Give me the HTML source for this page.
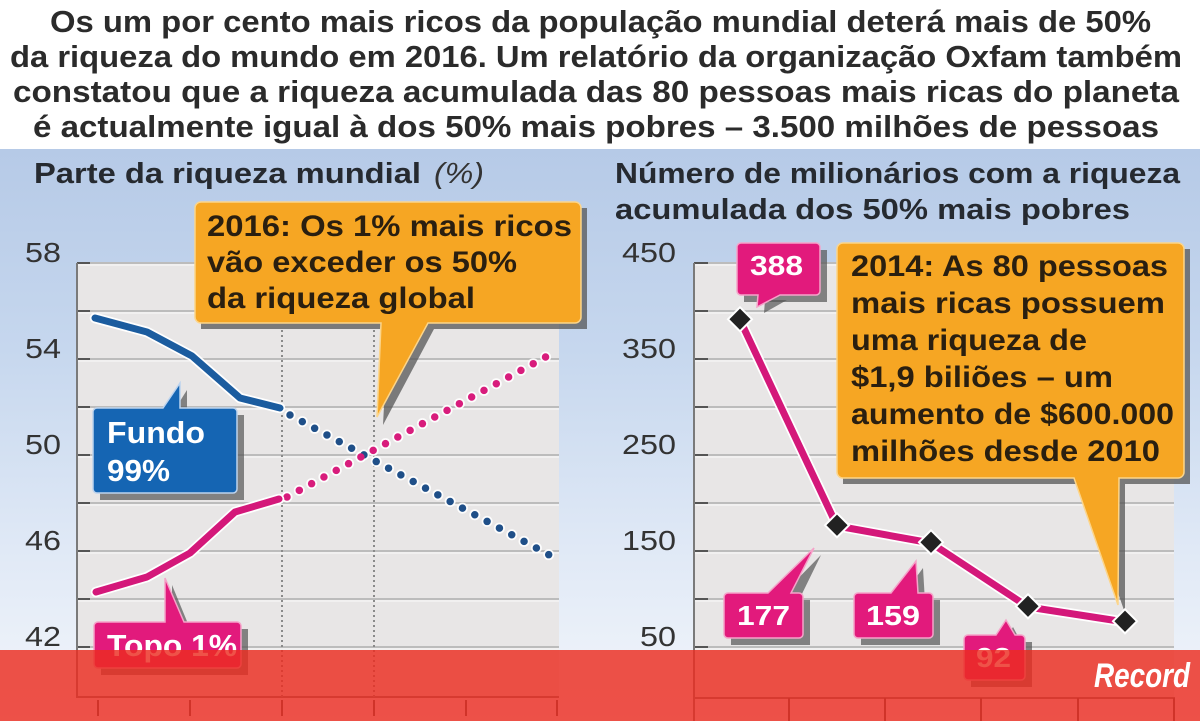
<!DOCTYPE html>
<html><head><meta charset="utf-8">
<style>
html,body{margin:0;padding:0;background:#fff;}
svg{display:block;}
text{font-family:"Liberation Sans",Arial,sans-serif;}
</style></head>
<body>
<svg width="1200" height="721" viewBox="0 0 1200 721" xmlns="http://www.w3.org/2000/svg">
<defs>
<linearGradient id="bg" x1="0" y1="0" x2="0" y2="1">
<stop offset="0" stop-color="#b6cae7"/>
<stop offset="0.35" stop-color="#c6d7ee"/>
<stop offset="0.7" stop-color="#e0e9f6"/>
<stop offset="1" stop-color="#f3f6fb"/>
</linearGradient>
</defs>
<rect x="0" y="0" width="1200" height="721" fill="#fff"/>
<rect x="0" y="149" width="1200" height="572" fill="url(#bg)"/>

<!-- Header -->
<g font-weight="bold" font-size="30.5" fill="#2b2b2b">
<text x="50" y="32" textLength="1101" lengthAdjust="spacingAndGlyphs">Os um por cento mais ricos da população mundial deterá mais de 50%</text>
<text x="10" y="67" textLength="1172" lengthAdjust="spacingAndGlyphs">da riqueza do mundo em 2016. Um relatório da organização Oxfam também</text>
<text x="13" y="102" textLength="1166" lengthAdjust="spacingAndGlyphs">constatou que a riqueza acumulada das 80 pessoas mais ricas do planeta</text>
<text x="33" y="137" textLength="1126" lengthAdjust="spacingAndGlyphs">é actualmente igual à dos 50% mais pobres – 3.500 milhões de pessoas</text>
</g>

<!-- Panel titles -->
<g font-weight="bold" font-size="28.5" fill="#262a30">
<text x="34" y="183" textLength="387" lengthAdjust="spacingAndGlyphs">Parte da riqueza mundial</text>
<text x="615" y="183" textLength="565" lengthAdjust="spacingAndGlyphs">Número de milionários com a riqueza</text>
<text x="615" y="219" textLength="515" lengthAdjust="spacingAndGlyphs">acumulada dos 50% mais pobres</text>
</g>
<text x="434" y="183" font-size="28.5" font-style="italic" fill="#333" textLength="50" lengthAdjust="spacingAndGlyphs">(%)</text>

<!-- LEFT PLOT -->
<rect x="77" y="263" width="482" height="434" fill="#e8e6e6"/>
<g stroke="#bcbcbc" stroke-width="2">
<line x1="77" y1="263" x2="559" y2="263"/>
<line x1="77" y1="311" x2="559" y2="311"/>
<line x1="77" y1="359" x2="559" y2="359"/>
<line x1="77" y1="407" x2="559" y2="407"/>
<line x1="77" y1="455" x2="559" y2="455"/>
<line x1="77" y1="503" x2="559" y2="503"/>
<line x1="77" y1="551" x2="559" y2="551"/>
<line x1="77" y1="599" x2="559" y2="599"/>
<line x1="77" y1="647" x2="559" y2="647"/>
</g>
<g stroke="#fafafa" stroke-width="1">
<line x1="77" y1="265" x2="559" y2="265"/>
<line x1="77" y1="313" x2="559" y2="313"/>
<line x1="77" y1="361" x2="559" y2="361"/>
<line x1="77" y1="409" x2="559" y2="409"/>
<line x1="77" y1="457" x2="559" y2="457"/>
<line x1="77" y1="505" x2="559" y2="505"/>
<line x1="77" y1="553" x2="559" y2="553"/>
<line x1="77" y1="601" x2="559" y2="601"/>
<line x1="77" y1="649" x2="559" y2="649"/>
</g>
<g stroke="#555" stroke-width="2">
<line x1="77" y1="263" x2="90" y2="263"/>
<line x1="77" y1="311" x2="90" y2="311"/>
<line x1="77" y1="359" x2="90" y2="359"/>
<line x1="77" y1="407" x2="90" y2="407"/>
<line x1="77" y1="455" x2="90" y2="455"/>
<line x1="77" y1="503" x2="90" y2="503"/>
<line x1="77" y1="551" x2="90" y2="551"/>
<line x1="77" y1="599" x2="90" y2="599"/>
<line x1="77" y1="647" x2="90" y2="647"/>
</g>
<line x1="77" y1="263" x2="77" y2="698" stroke="#7a7a7a" stroke-width="2"/>
<line x1="76" y1="697" x2="559" y2="697" stroke="#7a7a7a" stroke-width="2"/>
<g stroke="#555" stroke-width="2">
<line x1="98" y1="700" x2="98" y2="716"/>
<line x1="190" y1="700" x2="190" y2="716"/>
<line x1="282" y1="700" x2="282" y2="716"/>
<line x1="374" y1="700" x2="374" y2="716"/>
<line x1="466" y1="700" x2="466" y2="716"/>
<line x1="557" y1="700" x2="557" y2="716"/>
</g>
<!-- vertical dotted guides -->
<g stroke="#8a8a8a" stroke-width="2" stroke-dasharray="2 3">
<line x1="282" y1="330" x2="282" y2="697"/>
<line x1="374" y1="330" x2="374" y2="697"/>
</g>

<!-- Y labels left -->
<g font-size="28" fill="#333" text-anchor="end">
<text x="61" y="262" textLength="36" lengthAdjust="spacingAndGlyphs">58</text>
<text x="61" y="358" textLength="36" lengthAdjust="spacingAndGlyphs">54</text>
<text x="61" y="454" textLength="36" lengthAdjust="spacingAndGlyphs">50</text>
<text x="61" y="550" textLength="36" lengthAdjust="spacingAndGlyphs">46</text>
<text x="61" y="646" textLength="36" lengthAdjust="spacingAndGlyphs">42</text>
</g>

<!-- dotted projections -->
<g fill="none" stroke-linecap="round">
<path d="M290 415 L553 557" stroke="#ffffff" stroke-width="11" stroke-dasharray="0 14" opacity="0.9"/>
<path d="M287 497 L553 353" stroke="#ffffff" stroke-width="11" stroke-dasharray="0 14" opacity="0.9"/>
<path d="M290 415 L553 557" stroke="#1f4f88" stroke-width="7.5" stroke-dasharray="0 14"/>
<path d="M287 497 L553 353" stroke="#d81c7c" stroke-width="7.5" stroke-dasharray="0 14"/>
</g>
<!-- solid lines -->
<g fill="none" stroke-linecap="round" stroke-linejoin="round">
<polyline points="95,318 147,332 192,356 240,398 280,408" stroke="#ffffff" stroke-width="10.5"/>
<polyline points="96,592 147,577 190,553 235,512 279,499" stroke="#ffffff" stroke-width="10.5"/>
<polyline points="95,318 147,332 192,356 240,398 280,408" stroke="#1b5c9f" stroke-width="7"/>
<polyline points="96,592 147,577 190,553 235,512 279,499" stroke="#d4187a" stroke-width="7"/>
</g>

<!-- Left orange callout -->
<g>
<path d="M201 208 h386 v121 h-153 l-51 96 l5 -96 h-187 z" fill="#555" opacity="0.75"/>
<path d="M201 202 h374 a6 6 0 0 1 6 6 v109 a6 6 0 0 1 -6 6 h-147 l-51 94 l4 -94 h-180 a6 6 0 0 1 -6 -6 v-109 a6 6 0 0 1 6 -6 z" fill="#f6a623" stroke="#fcd58a" stroke-width="1.5"/>
<g font-weight="bold" font-size="29.5" fill="#2a1f10">
<text x="207" y="236" textLength="365" lengthAdjust="spacingAndGlyphs">2016: Os 1% mais ricos</text>
<text x="207" y="272" textLength="310" lengthAdjust="spacingAndGlyphs">vão exceder os 50%</text>
<text x="207" y="308" textLength="268" lengthAdjust="spacingAndGlyphs">da riqueza global</text>
</g>
</g>

<!-- Fundo callout -->
<g>
<path d="M100 415 h144 v85 h-144 z" fill="#555" opacity="0.7"/>
<path d="M170 417 l17 -27 v27 z" fill="#555" opacity="0.7"/>
<path d="M97 408 h66 l17 -25 v25 h53 a4 4 0 0 1 4 4 v77 a4 4 0 0 1 -4 4 h-136 a4 4 0 0 1 -4 -4 v-77 a4 4 0 0 1 4 -4 z" fill="#1565b3" stroke="#bcd3ee" stroke-width="1.5"/>
<g font-weight="bold" font-size="30.5" fill="#fff">
<text x="107" y="443" textLength="98" lengthAdjust="spacingAndGlyphs">Fundo</text>
<text x="107" y="481" textLength="63" lengthAdjust="spacingAndGlyphs">99%</text>
</g>
</g>

<!-- Topo callout -->
<g>
<path d="M101 629 h147 v46 h-147 z" fill="#555" opacity="0.7"/>
<path d="M172 631 v-46 l19 46 z" fill="#555" opacity="0.7"/>
<path d="M98 622 h67 v-44 l19 44 h53 a4 4 0 0 1 4 4 v38 a4 4 0 0 1 -4 4 h-139 a4 4 0 0 1 -4 -4 v-38 a4 4 0 0 1 4 -4 z" fill="#e21a7c" stroke="#f5a3c9" stroke-width="1.5"/>
<text x="107" y="656" font-weight="bold" font-size="30.5" fill="#fff" textLength="130" lengthAdjust="spacingAndGlyphs">Topo 1%</text>
</g>

<!-- RIGHT PLOT -->
<rect x="694" y="263" width="480" height="435" fill="#e8e6e6"/>
<g stroke="#bcbcbc" stroke-width="2">
<line x1="694" y1="263" x2="1174" y2="263"/>
<line x1="694" y1="311" x2="1174" y2="311"/>
<line x1="694" y1="359" x2="1174" y2="359"/>
<line x1="694" y1="407" x2="1174" y2="407"/>
<line x1="694" y1="455" x2="1174" y2="455"/>
<line x1="694" y1="503" x2="1174" y2="503"/>
<line x1="694" y1="551" x2="1174" y2="551"/>
<line x1="694" y1="599" x2="1174" y2="599"/>
<line x1="694" y1="647" x2="1174" y2="647"/>
</g>
<g stroke="#fafafa" stroke-width="1">
<line x1="694" y1="265" x2="1174" y2="265"/>
<line x1="694" y1="313" x2="1174" y2="313"/>
<line x1="694" y1="361" x2="1174" y2="361"/>
<line x1="694" y1="409" x2="1174" y2="409"/>
<line x1="694" y1="457" x2="1174" y2="457"/>
<line x1="694" y1="505" x2="1174" y2="505"/>
<line x1="694" y1="553" x2="1174" y2="553"/>
<line x1="694" y1="601" x2="1174" y2="601"/>
<line x1="694" y1="649" x2="1174" y2="649"/>
</g>
<g stroke="#555" stroke-width="2">
<line x1="694" y1="263" x2="708" y2="263"/>
<line x1="694" y1="311" x2="708" y2="311"/>
<line x1="694" y1="359" x2="708" y2="359"/>
<line x1="694" y1="407" x2="708" y2="407"/>
<line x1="694" y1="455" x2="708" y2="455"/>
<line x1="694" y1="503" x2="708" y2="503"/>
<line x1="694" y1="551" x2="708" y2="551"/>
<line x1="694" y1="599" x2="708" y2="599"/>
<line x1="694" y1="647" x2="708" y2="647"/>
</g>
<line x1="694" y1="263" x2="694" y2="721" stroke="#7a7a7a" stroke-width="2"/>
<line x1="693" y1="698" x2="1175" y2="698" stroke="#7a7a7a" stroke-width="2"/>
<g stroke="#555" stroke-width="2">
<line x1="789" y1="698" x2="789" y2="721"/>
<line x1="885" y1="698" x2="885" y2="721"/>
<line x1="981" y1="698" x2="981" y2="721"/>
<line x1="1078" y1="698" x2="1078" y2="721"/>
<line x1="1174" y1="698" x2="1174" y2="721"/>
</g>

<!-- Y labels right -->
<g font-size="28" fill="#333" text-anchor="end">
<text x="676" y="262" textLength="54" lengthAdjust="spacingAndGlyphs">450</text>
<text x="676" y="358" textLength="54" lengthAdjust="spacingAndGlyphs">350</text>
<text x="676" y="454" textLength="54" lengthAdjust="spacingAndGlyphs">250</text>
<text x="676" y="550" textLength="54" lengthAdjust="spacingAndGlyphs">150</text>
<text x="676" y="646" textLength="36" lengthAdjust="spacingAndGlyphs">50</text>
</g>

<!-- Right orange callout -->
<g>
<path d="M843 249 h347 v235 h-65 l-0 129 l-45 -129 h-237 z" fill="#555" opacity="0.75"/>
<path d="M843 243 h335 a6 6 0 0 1 6 6 v223 a6 6 0 0 1 -6 6 h-59 l-1 127 l-44 -127 h-231 a6 6 0 0 1 -6 -6 v-223 a6 6 0 0 1 6 -6 z" fill="#f6a623" stroke="#fcd58a" stroke-width="1.5"/>
<g font-weight="bold" font-size="29.5" fill="#2a1f10">
<text x="851" y="276" textLength="317" lengthAdjust="spacingAndGlyphs">2014: As 80 pessoas</text>
<text x="851" y="313" textLength="314" lengthAdjust="spacingAndGlyphs">mais ricas possuem</text>
<text x="851" y="350" textLength="236" lengthAdjust="spacingAndGlyphs">uma riqueza de</text>
<text x="851" y="387" textLength="262" lengthAdjust="spacingAndGlyphs">$1,9 biliões – um</text>
<text x="851" y="424" textLength="323" lengthAdjust="spacingAndGlyphs">aumento de $600.000</text>
<text x="851" y="461" textLength="309" lengthAdjust="spacingAndGlyphs">milhões desde 2010</text>
</g>
</g>

<!-- Right series -->
<g fill="none" stroke-linecap="round" stroke-linejoin="round">
<polyline points="740,320 837,526 931,543 1028,607 1125,622" stroke="#ffffff" stroke-width="10.5"/>
<polyline points="740,320 837,526 931,543 1028,607 1125,622" stroke="#d4187a" stroke-width="7"/>
</g>
<g fill="#222" stroke="#fff" stroke-width="2">
<rect x="731" y="311" width="17" height="17" transform="rotate(45 740 320)"/>
<rect x="828" y="517" width="17" height="17" transform="rotate(45 837 526)"/>
<rect x="922" y="534" width="17" height="17" transform="rotate(45 931 543)"/>
<rect x="1019" y="598" width="17" height="17" transform="rotate(45 1028 607)"/>
<rect x="1116" y="613" width="17" height="17" transform="rotate(45 1125 622)"/>
</g>

<!-- pink number callouts -->
<g>
<path d="M744 250 h83 v52 h-83 z" fill="#555" opacity="0.7"/>
<path d="M765 300 l-1 13 l23 -13 z" fill="#555" opacity="0.7"/>
<path d="M741 243 h75 a4 4 0 0 1 4 4 v44 a4 4 0 0 1 -4 4 h-36 l-23 12 l1 -12 h-17 a4 4 0 0 1 -4 -4 v-44 a4 4 0 0 1 4 -4 z" fill="#e21a7c" stroke="#f5a3c9" stroke-width="1.5"/>
<text x="750" y="275" font-weight="bold" font-size="27.5" fill="#fff" textLength="53" lengthAdjust="spacingAndGlyphs">388</text>

<path d="M731 600 h79 v45 h-79 z" fill="#555" opacity="0.7"/>
<path d="M775 602 l46 -47 l-23 47 z" fill="#555" opacity="0.7"/>
<path d="M728 593 h40 l46 -45 l-23 45 h8 a4 4 0 0 1 4 4 v37 a4 4 0 0 1 -4 4 h-71 a4 4 0 0 1 -4 -4 v-37 a4 4 0 0 1 4 -4 z" fill="#e21a7c" stroke="#f5a3c9" stroke-width="1.5"/>
<text x="737" y="625" font-weight="bold" font-size="27.5" fill="#fff" textLength="53" lengthAdjust="spacingAndGlyphs">177</text>

<path d="M861 600 h79 v45 h-79 z" fill="#555" opacity="0.7"/>
<path d="M898 602 l25 -34 l2 34 z" fill="#555" opacity="0.7"/>
<path d="M858 593 h33 l25 -32 l2 32 h11 a4 4 0 0 1 4 4 v37 a4 4 0 0 1 -4 4 h-71 a4 4 0 0 1 -4 -4 v-37 a4 4 0 0 1 4 -4 z" fill="#e21a7c" stroke="#f5a3c9" stroke-width="1.5"/>
<text x="866" y="625" font-weight="bold" font-size="27.5" fill="#fff" textLength="54" lengthAdjust="spacingAndGlyphs">159</text>

<path d="M971 642 h61 v45 h-61 z" fill="#555" opacity="0.7"/>
<path d="M1003 644 l10 -17 l9 17 z" fill="#555" opacity="0.7"/>
<path d="M968 635 h28 l10 -15 l9 15 h6 a4 4 0 0 1 4 4 v37 a4 4 0 0 1 -4 4 h-53 a4 4 0 0 1 -4 -4 v-37 a4 4 0 0 1 4 -4 z" fill="#e21a7c" stroke="#f5a3c9" stroke-width="1.5"/>
<text x="976" y="667" font-weight="bold" font-size="27.5" fill="#fff" textLength="35" lengthAdjust="spacingAndGlyphs">92</text>
</g>

<!-- Bottom red band overlay -->
<rect x="0" y="650" width="1200" height="71" fill="rgb(236,44,32)" opacity="0.82"/>
<text x="1094" y="687" font-family="Liberation Serif, serif" font-weight="bold" font-style="italic" font-size="34" fill="#fff" textLength="96" lengthAdjust="spacingAndGlyphs">Record</text>
</svg>
</body></html>
